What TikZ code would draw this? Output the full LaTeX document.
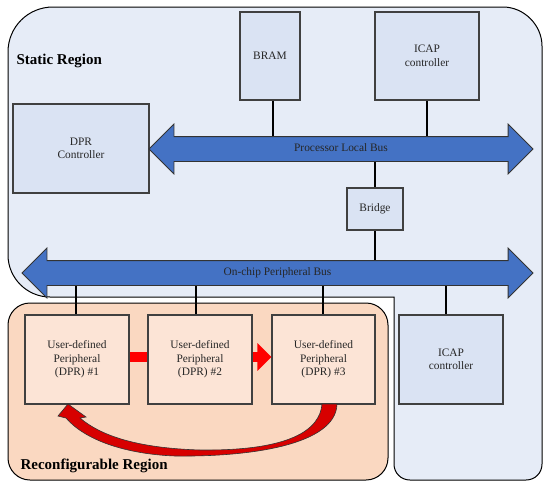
\documentclass[tikz,border=0pt]{standalone}
\usepackage{fontspec}
\setmainfont{Liberation Serif}
\usetikzlibrary{shapes.arrows,arrows.meta}

\definecolor{staticfill}{RGB}{230,236,247}
\definecolor{boxfill}{RGB}{218,227,243}
\definecolor{reconfill}{RGB}{250,216,193}
\definecolor{perifill}{RGB}{252,228,214}
\definecolor{busblue}{RGB}{68,114,196}
\definecolor{boxline}{RGB}{64,64,64}
\definecolor{darkred}{RGB}{215,0,0}

\pgfdeclarelayer{regions}
\pgfdeclarelayer{wires}
\pgfsetlayers{regions,wires,main}

\begin{document}
\begin{tikzpicture}[x=1pt, y=-1pt,
  every node/.style={font=\fontsize{11.4}{13.5}\selectfont, text=black!85},
  block/.style={draw=boxline, line width=1.1pt, fill=boxfill, align=center, inner sep=0pt},
  peri/.style={block, fill=perifill, minimum width=104pt, minimum height=89pt},
  bus/.style={double arrow, draw=black!80, line width=0.8pt, fill=busblue,
    double arrow head extend=12.5pt, double arrow tip angle=90,
    text height=8pt, text depth=2.5pt, inner ysep=6.75pt, inner xsep=0pt},
  wire/.style={line width=1.3pt, black},
  title/.style={font=\fontsize{15}{18}\selectfont\bfseries, text=black}]
        \useasboundingbox (0,0) rectangle (550,488);
        \begin{pgfonlayer}{regions}
        \filldraw[fill=staticfill, line width=1pt] (394,297) -- (50,297)
        .. controls (27,297) and (8,278) .. (8,255) -- (8,52)
        .. controls (8,27) and (28,7) .. (53,7) -- (503,7)
        .. controls (524,7) and (542,25) .. (542,46) -- (542,464)
        .. controls (542,473) and (535,480) .. (526,480) -- (410,480)
        .. controls (401,480) and (394,473) .. (394,464) -- cycle;
        \filldraw[fill=reconfill, line width=1pt, rounded corners=22pt]
        (8,303) rectangle (388,480);
        \end{pgfonlayer}
        \node[title, anchor=west] (static) at (13,61) {Static Region};
        \node[title, anchor=west] (reconf) at (17,466) {Reconfigurable Region};
        \node[block, minimum width=60pt, minimum height=88pt] (bram) at (270,56) {BRAM};
        \node[block, minimum width=104pt, minimum height=88pt] (icapt) at (427,56)
        {ICAP\\controller};
        \node[block, minimum width=136pt, minimum height=89pt] (dpr) at (81,148.5)
        {DPR\\Controller};
        \node[bus, minimum height=384pt] (plb) at (341,149) {Processor Local Bus};
        \node[block, minimum width=56pt, minimum height=42pt] (bridge) at (375,209) {Bridge};
        \node[bus, minimum height=511pt] (opb) at (277.5,273) {On-chip Peripheral Bus};
        \node[peri] (p1) at (77,359.5) {User-defined\\Peripheral\\(DPR) \#1};
        \node[peri] (p2) at (200,359.5) {User-defined\\Peripheral\\(DPR) \#2};
        \node[peri, minimum width=103pt] (p3) at (323.5,359.5) {User-defined\\Peripheral\\(DPR) \#3};
        \node[block, minimum width=104pt, minimum height=89pt] (icapb) at (451,359.5)
        {ICAP\\controller};
        \begin{pgfonlayer}{wires}
        \draw[wire] ([xshift=3pt]bram.center) -- ([xshift=3pt]bram.center |- plb);
        \draw[wire] (icapt) -- (icapt |- plb);
        \draw[wire] (bridge |- plb) -- (bridge) -- (bridge |- opb);
        \foreach \p/\dx in {p1/-1, p2/-4, p3/-0.5, icapb/-5}
        \draw[wire] ([xshift=\dx pt]\p.center) -- ([xshift=\dx pt]\p.center |- opb);
        \end{pgfonlayer}
        \draw[line width=10pt, red] ([yshift=2.5pt]p1.east) -- ([yshift=2.5pt]p2.west);
        \draw[line width=10pt, red, -{Triangle[length=14pt, width=27pt]}]
        ([yshift=2.5pt]p2.east) -- ([yshift=2.5pt]p3.west);
        \filldraw[fill=darkred, draw=black!80, line width=0.6pt] (337,404)
        .. controls (336,445) and (250,457) .. (175,456)
        .. controls (125,454) and (85,440) .. (66,418)
        -- (58,416) -- (68,404) -- (86,417) -- (80,418)
        .. controls (100,435) and (135,448) .. (200,450)
        .. controls (290,451) and (320,430) .. (322,404) -- cycle;
      \end{tikzpicture}
\end{document}
